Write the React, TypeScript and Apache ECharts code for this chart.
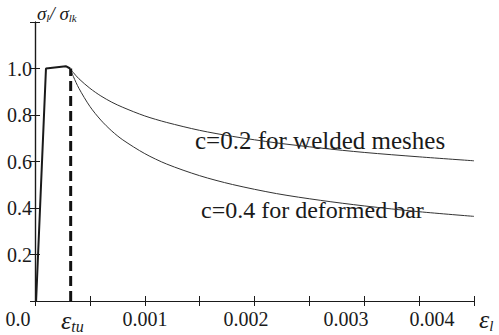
import React, { useEffect, useRef } from "react";
import * as echarts from "echarts";

// Rising branch and plateau (strain, σ/σ_tk)
const riseX = [0.00001, 0.0001, 0.00028, 0.00032];
const riseY = [0, 1.0, 1.01, 1.0];

// Descending branches
const epsX = [0.00032, 0.00035, 0.0004, 0.0005, 0.0006, 0.0007, 0.0008, 0.001, 0.0012, 0.0015, 0.0018, 0.0022, 0.0026, 0.003, 0.0035, 0.004];
const weldedY = [1.0, 0.982, 0.956, 0.915, 0.882, 0.855, 0.833, 0.796, 0.768, 0.734, 0.708, 0.68, 0.658, 0.639, 0.62, 0.603];
const deformedY = [1.0, 0.965, 0.915, 0.837, 0.778, 0.731, 0.693, 0.634, 0.589, 0.539, 0.501, 0.462, 0.433, 0.409, 0.384, 0.364];

// Cracking strain marker
const epsTu = 0.000325;
const epsTuTop = 1.0;

// Tick labels along the x axis (as printed)
const xTickLabels = ["0.0", "0.001", "0.002", "0.003", "0.004"];
const xLabelPos = [18, 145, 246, 346, 432];

const annotations = ["c=0.2 for welded meshes", "c=0.4 for deformed bar"];

const FONT = "Liberation Serif";
const INK = "#1a1a1a";

export default function App() {
  const ref = useRef<HTMLDivElement>(null);
  useEffect(() => {
    if (!ref.current) return;
    const chart = echarts.init(ref.current, undefined, { renderer: "svg" });
    const axisCommon = {
      type: "value" as const,
      axisLine: { show: true, lineStyle: { color: INK, width: 1.2 } },
      axisTick: { show: true, inside: true, length: 5, lineStyle: { color: INK, width: 1 } },
      splitLine: { show: false },
    };
    chart.setOption({
      animation: false,
      backgroundColor: "#ffffff",
      grid: { left: 35, top: 22, right: 25, bottom: 34, containLabel: false },
      xAxis: [
        { ...axisCommon, min: 0, max: 0.004, interval: 0.0005, position: "bottom", axisLabel: { show: false } },
        { ...axisCommon, min: 0, max: 0.004, interval: 0.0005, position: "top", axisLabel: { show: false } },
      ],
      yAxis: [
        {
          ...axisCommon,
          min: 0,
          max: 1.2,
          interval: 0.2,
          position: "left",
          axisLabel: {
            show: true,
            margin: 3,
            fontFamily: FONT,
            fontSize: 20,
            color: INK,
            formatter: (v: number) => (v === 0 || v > 1.1 ? "" : v.toFixed(1)),
          },
        },
        { ...axisCommon, min: 0, max: 1.2, interval: 0.2, position: "right", axisLabel: { show: false } },
      ],
      series: [
        {
          type: "line",
          data: riseX.map((x, i) => [x, riseY[i]]),
          showSymbol: false,
          lineStyle: { color: INK, width: 2 },
          silent: true,
        },
        {
          type: "line",
          data: epsX.map((x, i) => [x, weldedY[i]]),
          showSymbol: false,
          smooth: 0.3,
          lineStyle: { color: "#333", width: 1 },
          silent: true,
        },
        {
          type: "line",
          data: epsX.map((x, i) => [x, deformedY[i]]),
          showSymbol: false,
          smooth: 0.3,
          lineStyle: { color: "#333", width: 1 },
          silent: true,
        },
        {
          type: "line",
          data: [
            [epsTu, 0],
            [epsTu, epsTuTop],
          ],
          showSymbol: false,
          lineStyle: { color: "#111", width: 3, type: [10, 5] },
          silent: true,
        },
      ],
      graphic: [
        ...xTickLabels.map((t, i) => ({
          type: "text",
          x: xLabelPos[i],
          y: 319,
          style: { text: t, fontFamily: FONT, fontSize: 20, fill: INK, align: "center", verticalAlign: "middle" },
        })),
        {
          type: "text",
          x: 61,
          y: 306,
          style: {
            text: "{e|ε}{s|tu}",
            rich: {
              e: { fontFamily: FONT, fontStyle: "italic", fontSize: 26, fill: INK },
              s: { fontFamily: FONT, fontStyle: "italic", fontSize: 16, fill: INK, padding: [12, 0, 0, 0] },
            },
          },
        },
        {
          type: "text",
          x: 479,
          y: 306,
          style: {
            text: "{e|ε}{s|l}",
            rich: {
              e: { fontFamily: FONT, fontStyle: "italic", fontSize: 26, fill: INK },
              s: { fontFamily: FONT, fontStyle: "italic", fontSize: 15, fill: INK, padding: [12, 0, 0, 0] },
            },
          },
        },
        {
          type: "text",
          x: 37,
          y: 3,
          style: {
            text: "{g|σ}{s|l}{g|/ σ}{s|lk}",
            rich: {
              g: { fontFamily: FONT, fontStyle: "italic", fontSize: 19, fill: INK },
              s: { fontFamily: FONT, fontStyle: "italic", fontSize: 11, fill: INK, padding: [9, 0, 0, 0] },
            },
          },
        },
        {
          type: "text",
          x: 195,
          y: 140,
          style: { text: annotations[0], fontFamily: FONT, fontSize: 25, fill: INK, verticalAlign: "middle" },
        },
        {
          type: "text",
          x: 201,
          y: 210,
          style: { text: annotations[1], fontFamily: FONT, fontSize: 24, fill: INK, verticalAlign: "middle" },
        },
      ],
    });
    return () => chart.dispose();
  }, []);
  return (
    <div
      ref={ref}
      style={{ position: "fixed", left: 0, top: 0, width: 499, height: 335, background: "#fff" }}
    />
  );
}
